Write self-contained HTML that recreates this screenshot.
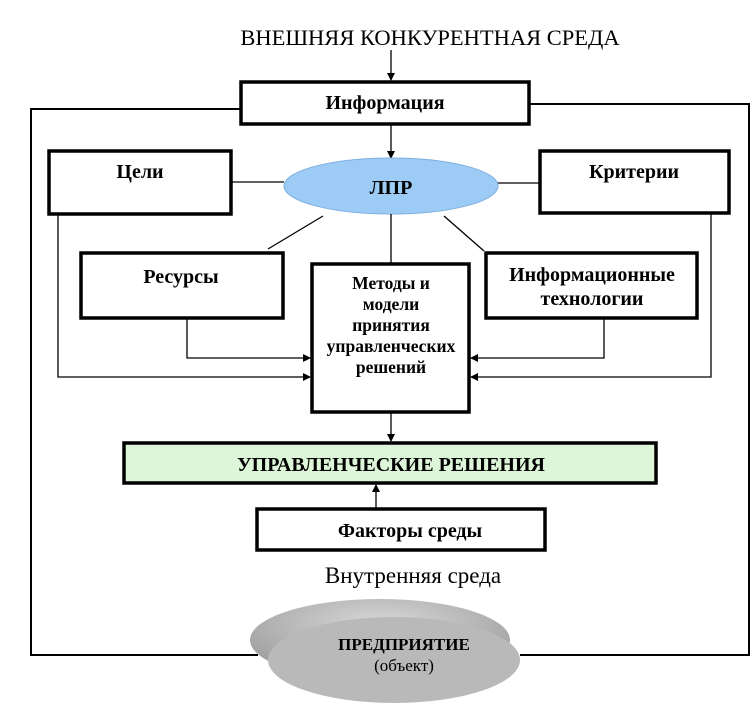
<!DOCTYPE html>
<html><head><meta charset="utf-8"><style>
html,body{margin:0;padding:0;background:#fff;}
svg{display:block;}
text{font-family:"Liberation Serif",serif;fill:#000;}
.b{font-weight:bold;font-size:20px;}
</style></head><body>
<svg width="752" height="721" viewBox="0 0 752 721" xmlns="http://www.w3.org/2000/svg">
<defs>
<marker id="a" markerWidth="8" markerHeight="8" refX="7" refY="4" orient="auto" markerUnits="userSpaceOnUse"><path d="M0,0 L8,4 L0,8 z" fill="#000"/></marker>
<radialGradient id="g1" cx="0.5" cy="0.3" r="0.7"><stop offset="0" stop-color="#d8d8d8"/><stop offset="1" stop-color="#999"/></radialGradient>
</defs>
<text x="430" y="45" font-size="22.5" text-anchor="middle">ВНЕШНЯЯ КОНКУРЕНТНАЯ СРЕДА</text>
<line x1="391" y1="50" x2="391" y2="80" stroke="#000" stroke-width="1.3" marker-end="url(#a)"/>
<polyline points="240,109 31,109 31,655 258,655" fill="none" stroke="#000" stroke-width="2"/>
<polyline points="530,104 749,104 749,655 520,655" fill="none" stroke="#000" stroke-width="2"/>
<rect x="241" y="82" width="288" height="42" fill="#fff" stroke="#000" stroke-width="3.5"/>
<text x="385" y="109" class="b" text-anchor="middle">Информация</text>
<line x1="391" y1="124" x2="391" y2="158" stroke="#000" stroke-width="1.3" marker-end="url(#a)"/>
<rect x="49" y="151" width="182" height="63" fill="#fff" stroke="#000" stroke-width="3.5"/>
<text x="140" y="178" class="b" text-anchor="middle">Цели</text>
<rect x="540" y="151" width="189" height="62" fill="#fff" stroke="#000" stroke-width="3.5"/>
<text x="634" y="178" class="b" text-anchor="middle">Критерии</text>
<line x1="231" y1="182" x2="284" y2="182" stroke="#000" stroke-width="1.3"/>
<line x1="497" y1="183" x2="540" y2="183" stroke="#000" stroke-width="1.3"/>
<ellipse cx="391" cy="186" rx="107" ry="28" fill="#9ccbf5" stroke="#7fb0e0" stroke-width="1"/>
<text x="391" y="194" class="b" text-anchor="middle">ЛПР</text>
<line x1="323" y1="216" x2="268" y2="249" stroke="#000" stroke-width="1.3"/>
<line x1="391" y1="214" x2="391" y2="264" stroke="#000" stroke-width="1.3"/>
<line x1="444" y1="216" x2="484" y2="251" stroke="#000" stroke-width="1.3"/>
<rect x="81" y="253" width="202" height="65" fill="#fff" stroke="#000" stroke-width="3.5"/>
<text x="181" y="283" class="b" text-anchor="middle">Ресурсы</text>
<rect x="486" y="253" width="211" height="65" fill="#fff" stroke="#000" stroke-width="3.5"/>
<text x="592" y="281" class="b" text-anchor="middle">Информационные</text>
<text x="592" y="305" class="b" text-anchor="middle">технологии</text>
<rect x="312" y="264" width="157" height="148" fill="#fff" stroke="#000" stroke-width="3.5"/>
<g font-size="17.5" font-weight="bold" text-anchor="middle">
<text x="391" y="289">Методы и</text>
<text x="391" y="310">модели</text>
<text x="391" y="331">принятия</text>
<text x="391" y="352">управленческих</text>
<text x="391" y="373">решений</text>
</g>
<polyline points="58,214 58,377 310,377" fill="none" stroke="#000" stroke-width="1.3" marker-end="url(#a)"/>
<polyline points="187,318 187,358 310,358" fill="none" stroke="#000" stroke-width="1.3" marker-end="url(#a)"/>
<polyline points="711,213 711,377 471,377" fill="none" stroke="#000" stroke-width="1.3" marker-end="url(#a)"/>
<polyline points="604,318 604,358 471,358" fill="none" stroke="#000" stroke-width="1.3" marker-end="url(#a)"/>
<line x1="391" y1="412" x2="391" y2="441" stroke="#000" stroke-width="1.3" marker-end="url(#a)"/>
<rect x="124" y="443" width="532" height="40" fill="#ddf5d8" stroke="#000" stroke-width="3.5"/>
<text x="391" y="471" class="b" font-size="22" text-anchor="middle">УПРАВЛЕНЧЕСКИЕ РЕШЕНИЯ</text>
<line x1="376" y1="509" x2="376" y2="485" stroke="#000" stroke-width="1.3" marker-end="url(#a)"/>
<rect x="257" y="509" width="288" height="41" fill="#fff" stroke="#000" stroke-width="3.5"/>
<text x="410" y="537" class="b" text-anchor="middle">Факторы среды</text>
<text x="413" y="583" font-size="23" text-anchor="middle">Внутренняя среда</text>
<ellipse cx="380" cy="640" rx="130" ry="41" fill="url(#g1)"/>
<ellipse cx="394" cy="660" rx="126" ry="43" fill="#b9b9b9"/>
<text x="404" y="650" font-size="17" font-weight="bold" text-anchor="middle">ПРЕДПРИЯТИЕ</text>
<text x="404" y="671" font-size="17" text-anchor="middle">(объект)</text>
</svg>
</body></html>
